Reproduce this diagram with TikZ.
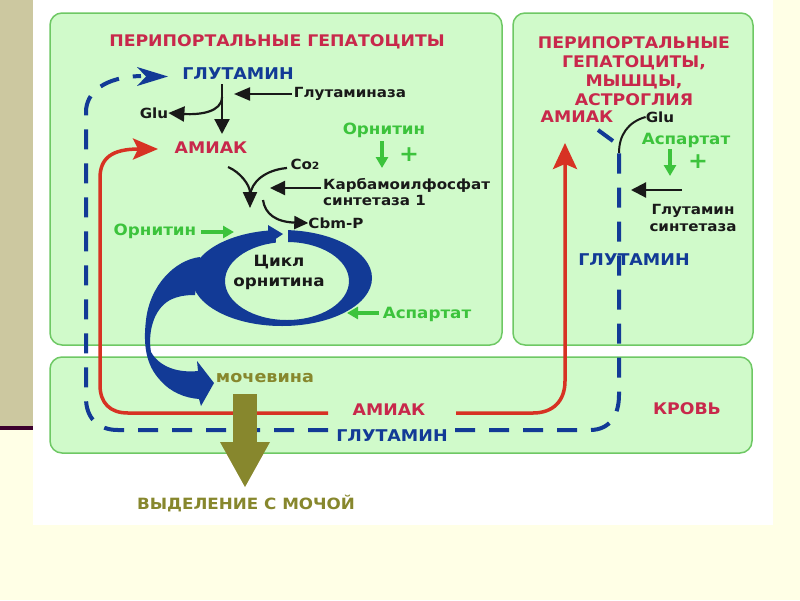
\documentclass[tikz,border=0pt]{standalone}
\usepackage{fontspec}
\setmainfont{DejaVu Sans}[FakeStretch=1.08]
\usetikzlibrary{arrows.meta}
\definecolor{bgyel}{RGB}{255,255,230}
\definecolor{stripc}{RGB}{204,200,160}
\definecolor{stripline}{RGB}{60,0,45}
\definecolor{boxfill}{RGB}{208,250,202}
\definecolor{boxdraw}{RGB}{110,200,100}
\definecolor{crim}{RGB}{200,40,75}
\definecolor{dblue}{RGB}{18,58,150}
\definecolor{rred}{RGB}{215,50,35}
\definecolor{ggreen}{RGB}{60,195,60}
\definecolor{olivec}{RGB}{135,135,45}
\definecolor{tblack}{RGB}{25,25,25}
\newcommand\myfs[1]{\fontsize{#1}{#1}\selectfont}
\begin{document}
\begin{tikzpicture}[x=1pt,y=-1pt,
  box/.style={draw=boxdraw,fill=boxfill,line width=1.5pt,rounded corners=12pt},
  lbl/.style={inner sep=0pt,font=\bfseries},
  titlec/.style={lbl,text=crim,font=\bfseries\myfs{16}},
  bluet/.style={lbl,text=dblue,font=\bfseries\myfs{16.2}},
  blackt/.style={lbl,text=tblack,font=\bfseries\myfs{14}},
  greent/.style={lbl,text=ggreen,font=\bfseries\myfs{15.5}},
  olivet/.style={lbl,text=olivec,font=\bfseries\myfs{16.3}},
  bdash/.style={draw=dblue,line width=4pt,dash pattern=on 20pt off 14pt},
  redl/.style={draw=rred,line width=3.5pt},
  blk/.style={draw=tblack,line width=2.2pt,-{Triangle[length=15pt,width=15pt]}},
  grn/.style={draw=ggreen,line width=4pt,-{Triangle[length=11pt,width=12pt]}},
]
\useasboundingbox (0,0) rectangle (800,600);
\fill[bgyel] (0,0) rectangle (800,600);
\fill[stripc] (0,0) rectangle (33,426);
\fill[stripline] (0,426) rectangle (33,430);
\fill[white] (33,0) rectangle (773,525);

% boxes
\draw[box] (50,13) rectangle (502,345);
\draw[box] (513,13) rectangle (753,345);
\draw[box] (50,357) rectangle (752,453);

% text nodes
\node[titlec] (t1) at (277,42) {ПЕРИПОРТАЛЬНЫЕ ГЕПАТОЦИТЫ};
\node[titlec,align=center,font=\bfseries\fontsize{16}{19}\selectfont] (t2) at (634,71) {ПЕРИПОРТАЛЬНЫЕ\\ГЕПАТОЦИТЫ,\\МЫШЦЫ,\\АСТРОГЛИЯ};
\node[bluet] (glut) at (238,74) {ГЛУТАМИН};
\node[blackt] (glu) at (154,113) {Glu};
\node[blackt] (gase) at (350,94) {Глутаминаза};
\node[titlec,font=\bfseries\myfs{16}] (am) at (211,148) {АМИАК};
\node[greent] (orn1) at (384,130) {Орнитин};
\node[lbl,text=ggreen,font=\bfseries\myfs{22}] (plus1) at (409,155) {+};
\node[blackt] (co2) at (305,164) {Co{\myfs{10}2}};
\node[blackt,align=left,anchor=west,font=\bfseries\fontsize{14}{16}\selectfont] (karb) at (323,192) {Карбамоилфосфат\\синтетаза 1};
\node[blackt] (cbm) at (336,223) {Cbm-P};
\node[greent] (orn2) at (155,231) {Орнитин};
\node[lbl,text=tblack,align=center,font=\bfseries\fontsize{15.5}{20}\selectfont] (cyc) at (279,272) {Цикл\\орнитина};
\node[greent] (asp1) at (427,314) {Аспартат};
\node[titlec,font=\bfseries\myfs{16}] (am2) at (577,117) {АМИАК};
\node[blackt] (glu2) at (660,117) {Glu};
\node[greent] (asp2) at (686,140) {Аспартат};
\node[lbl,text=ggreen,font=\bfseries\myfs{22}] (plus2) at (698,162) {+};
\node[blackt,align=center,font=\bfseries\fontsize{14}{17}\selectfont] (gsyn) at (693,218) {Глутамин\\синтетаза};
\node[bluet] (glut2) at (634,260) {ГЛУТАМИН};
\node[titlec,font=\bfseries\myfs{16}] (am3) at (389,410) {АМИАК};
\node[bluet] (glut3) at (392,436) {ГЛУТАМИН};
\node[titlec,font=\bfseries\myfs{16}] (krov) at (687,409) {КРОВЬ};
\node[olivet] (moch) at (265,378) {мочевина};
\node[olivet,font=\bfseries\myfs{15.5}] (vyd) at (246,504) {ВЫДЕЛЕНИЕ С МОЧОЙ};

% coordinates
\coordinate (rl0) at (328,413);
\coordinate (rl1) at (158,149);
\coordinate (rr0) at (456,413);
\coordinate (rr1) at (565,143);
\coordinate (bl0) at (328,430);
\coordinate (bl1) at (141,76);
\coordinate (br0) at (455,430);
\coordinate (br1) at (619,153);
\coordinate (yb) at (613,141);
\coordinate (yt) at (598,130);

% red lines
\draw[redl,-{Stealth[length=25pt,width=21pt,inset=5pt]}] (rl0) -- (128,413) .. controls (110,413) and (100,403) .. (100,385) -- (100,178) .. controls (100,158) and (112,149) .. (rl1);
\draw[redl,-{Stealth[length=26pt,width=24pt,inset=5pt]}] (rr0) -- (533,413) .. controls (553,413) and (565,401) .. (565,381) -- (rr1);

% blue dashed
\draw[bdash] (bl0) -- (118,430) .. controls (98,430) and (86,418) .. (86,398) -- (86,112) .. controls (86,92) and (105,77) .. (bl1);
\fill[dblue] (137,67) -- (168,76.5) -- (137,86) -- (146,76.5) -- cycle;
\draw[bdash] (br0) -- (590,430) .. controls (610,430) and (619,415) .. (619,395) -- (br1);
\draw[dblue,line width=4pt] (yb) -- (yt);
\draw[tblack,line width=2pt] (br1) .. controls (619,135) and (628,122) .. (glu2.west);

% ornithine cycle
\fill[dblue,even odd rule] (282,278) ellipse [x radius=90, y radius=48] (287,281) ellipse [x radius=62, y radius=39];
\fill[boxfill] (276,224) rectangle (288,248);
\fill[dblue] (268,225) -- (283,234) -- (268,244) -- cycle;
\fill[dblue] (200,257) .. controls (175,260) and (150,285) .. (146,320) .. controls (143,345) and (146,365) .. (160,380) .. controls (170,392) and (185,398) .. (199,399)
  -- (201,406) -- (214,383) -- (197,361) -- (198,371)
  .. controls (180,373) and (160,368) .. (151,352) .. controls (148,335) and (152,310) .. (170,300) .. controls (178,296) and (186,295) .. (195,295) -- cycle;

% olive arrow
\fill[olivec] (233,394) rectangle (257,443);
\fill[olivec] (220,442) -- (270,442) -- (245,487) -- cycle;

% black arrows
\coordinate (g0) at (222,84);
\coordinate (g1) at (222,134);
\coordinate (gs) at (222,97);
\draw[blk] (g0) -- (g1);
\draw[blk,-{Triangle[length=16pt,width=15pt]}] (gs) .. controls (222,112) and (200,115) .. (glu.east);
\draw[blk,-{Triangle[length=16pt,width=13pt]}] (gase.west) ++(-2,0) -- (234,94);
\coordinate (m0) at (228,167);
\coordinate (m1) at (250,208);
\coordinate (m2) at (287,168);
\coordinate (mj) at (250,196);
\draw[tblack,line width=2.2pt] (m2) .. controls (265,170) and (251,182) .. (mj);
\draw[blk,-{Triangle[length=16pt,width=14pt]}] (m0) .. controls (240,172) and (250,185) .. (m1);
\draw[blk,-{Triangle[length=15pt,width=14pt]}] (karb.west |- 0,188) ++(-2,0) -- (270,188);
\coordinate (c0) at (263,200);
\draw[blk,-{Triangle[length=14pt,width=13pt]}] (c0) .. controls (265,214) and (276,222) .. (cbm.west);

% green arrows
\draw[grn] (382,141) -- (382,168);
\draw[grn] (orn2.east) ++(5,1) -- (234,232);
\draw[grn] (asp1.west) ++(-4,-1) -- (347,313);
\draw[grn] (670,149) -- (670,176);
\draw[blk] (682,190) -- (631,190);
\end{tikzpicture}
\end{document}
